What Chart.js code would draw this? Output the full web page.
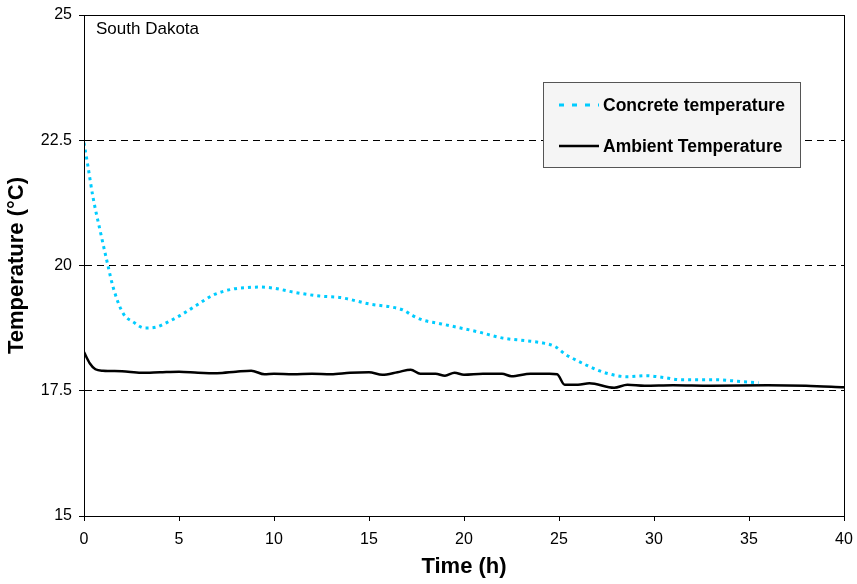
<!DOCTYPE html>
<html>
<head>
<meta charset="utf-8">
<script src="https://cdn.jsdelivr.net/npm/chart.js@4"></script>
<style>
  html, body { margin: 0; padding: 0; background: #fff; }
  #wrap { width: 857px; height: 584px; }
</style>
</head>
<body>
<div id="wrap"><canvas id="tempChart" width="857" height="584"></canvas></div>
<script>
// Concrete vs ambient temperature, South Dakota
const chartTitle = 'South Dakota';
const concreteLabel = 'Concrete temperature';
const ambientLabel = 'Ambient Temperature';

const concreteTime = [0, 0.2, 0.47, 0.84, 1.26, 1.53, 2.05, 2.6, 3.2, 3.8, 4.4, 5.05, 5.9, 6.8, 7.84, 8.6, 9.26, 9.95, 11, 12.4, 13.5, 15.05, 16.2, 16.8, 17.3, 17.84, 18.6, 19.6, 20.8, 22.05, 23.2, 24.2, 24.8, 25.4, 25.7, 26.5, 27.5, 28.6, 29.6, 30.4, 31.4, 32.5, 33.3, 34.4, 35.5];
const concreteTemp = [22.45, 22.0, 21.37, 20.71, 20.0, 19.57, 19.05, 18.87, 18.75, 18.77, 18.87, 19.0, 19.2, 19.41, 19.53, 19.56, 19.57, 19.55, 19.47, 19.39, 19.36, 19.23, 19.17, 19.11, 19.0, 18.91, 18.85, 18.77, 18.67, 18.55, 18.5, 18.45, 18.38, 18.21, 18.15, 18.0, 17.85, 17.78, 17.8, 17.77, 17.72, 17.72, 17.72, 17.69, 17.66];

const ambientTime = [0, 0.3, 0.6, 1, 2, 3, 4, 5, 6, 7, 8, 8.8, 9.5, 10, 11, 12, 13, 14, 15, 15.7, 16.5, 17.2, 17.7, 18.5, 19, 19.5, 20, 21, 22, 22.5, 23.5, 24.5, 24.9, 25.3, 26, 26.6, 27.9, 28.6, 29.5, 31, 33, 36, 38, 40];
const ambientTemp = [18.27, 18.05, 17.93, 17.9, 17.89, 17.86, 17.87, 17.88, 17.86, 17.85, 17.88, 17.9, 17.83, 17.84, 17.83, 17.84, 17.83, 17.86, 17.87, 17.82, 17.87, 17.92, 17.84, 17.84, 17.8, 17.86, 17.82, 17.84, 17.84, 17.79, 17.84, 17.84, 17.83, 17.62, 17.62, 17.65, 17.56, 17.62, 17.6, 17.61, 17.6, 17.61, 17.6, 17.57];

const xTicks = [0, 5, 10, 15, 20, 25, 30, 35, 40];
const yTicks = [15, 17.5, 20, 22.5, 25];

const FONT = 'Liberation Sans, Arial, sans-serif';

const toPoints = (xs, ys) => xs.map((x, i) => ({ x: x, y: ys[i] }));

// frame, title and boxed legend
const decor = {
  id: 'decor',
  afterDatasetsDraw(chart) {
    const { ctx, chartArea: a } = chart;
    ctx.save();
    ctx.strokeStyle = '#000';
    ctx.lineWidth = 1;
    ctx.strokeRect(a.left + 0.5, a.top + 0.5, a.right - a.left, a.bottom - a.top);

    ctx.fillStyle = '#000';
    ctx.font = '17px ' + FONT;
    ctx.textBaseline = 'middle';
    ctx.textAlign = 'left';
    ctx.fillText(chartTitle, a.left + 12, a.top + 14);

    // legend box
    const lx = 543, ly = 82, lw = 257, lh = 85;
    ctx.fillStyle = '#f5f5f5';
    ctx.fillRect(lx, ly, lw, lh);
    ctx.strokeStyle = '#555';
    ctx.strokeRect(lx + 0.5, ly + 0.5, lw, lh);
    ctx.font = 'bold 17.5px ' + FONT;
    chart.data.datasets.forEach((ds, i) => {
      const yy = ly + 23 + i * 41;
      ctx.strokeStyle = ds.borderColor;
      ctx.lineWidth = ds.borderWidth;
      ctx.setLineDash(i === 0 ? [5, 8] : []);
      ctx.beginPath();
      ctx.moveTo(lx + 16, yy);
      ctx.lineTo(lx + 56, yy);
      ctx.stroke();
      ctx.setLineDash([]);
      ctx.fillStyle = '#000';
      ctx.fillText(ds.label, lx + 60, yy + 1);
    });
    ctx.restore();
  }
};

const ctx = document.getElementById('tempChart').getContext('2d');
new Chart(ctx, {
  type: 'line',
  data: {
    datasets: [{
      label: concreteLabel,
      data: toPoints(concreteTime, concreteTemp),
      borderColor: '#00ccff',
      borderWidth: 3,
      borderDash: [3, 4],
      pointRadius: 0,
      tension: 0.4,
      cubicInterpolationMode: 'monotone',
      fill: false
    }, {
      label: ambientLabel,
      data: toPoints(ambientTime, ambientTemp),
      borderColor: '#000',
      borderWidth: 2.5,
      pointRadius: 0,
      tension: 0.4,
      cubicInterpolationMode: 'monotone',
      fill: false
    }]
  },
  options: {
    responsive: false,
    animation: false,
    layout: { padding: { left: 0, top: 15, right: 13, bottom: 0 } },
    scales: {
      x: {
        type: 'linear',
        min: 0,
        max: 40,
        afterBuildTicks: s => { s.ticks = xTicks.map(v => ({ value: v })); },
        afterFit: s => { s.height = 68; s.paddingLeft = 0; s.paddingRight = 0; },
        grid: { color: 'transparent', tickColor: '#000', tickLength: 5, drawOnChartArea: false },
        border: { display: true, color: '#000', width: 1 },
        ticks: { color: '#000', font: { family: FONT, size: 16 }, padding: 9, maxRotation: 0 },
        title: { display: true, text: 'Time (h)', color: '#000', font: { family: FONT, size: 22, weight: 'bold' }, padding: { top: 2 } }
      },
      y: {
        min: 15,
        max: 25,
        afterBuildTicks: s => { s.ticks = yTicks.map(v => ({ value: v })); },
        afterFit: s => { s.width = 84; s.paddingTop = 0; s.paddingBottom = 0; },
        grid: {
          color: c => (c.tick && (c.tick.value === 15 || c.tick.value === 25)) ? 'transparent' : '#000',
          tickColor: '#000',
          tickLength: 5,
          lineWidth: 1
        },
        border: { display: true, color: '#000', width: 1, dash: [7, 5] },
        ticks: { color: '#000', font: { family: FONT, size: 16 }, padding: 7, callback: v => String(v) },
        title: { display: true, text: 'Temperature (\u00B0C)', color: '#000', font: { family: FONT, size: 22, weight: 'bold' }, padding: { bottom: 2 } }
      }
    },
    plugins: {
      legend: { display: false },
      tooltip: { enabled: false }
    }
  },
  plugins: [decor]
});
</script>
</body>
</html>
